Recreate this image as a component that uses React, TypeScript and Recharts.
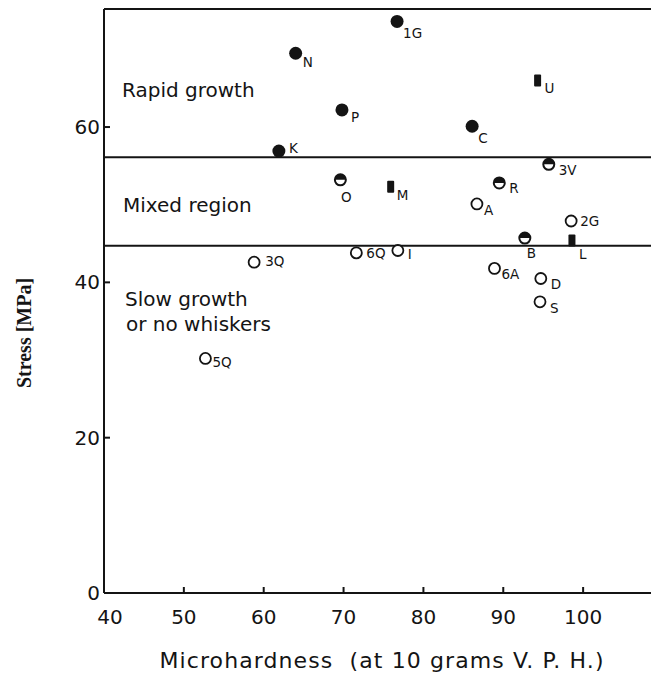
import {
  ReferenceLine,
  Scatter,
  ScatterChart,
  XAxis,
  YAxis,
} from "recharts";

const INK = "#141414";
const FONT = "'DejaVu Sans', sans-serif";

// Microhardness (V.P.H.) vs stress (MPa), one array per marker kind
const rapidGrowth = [
  { x: 64.0, y: 69.5, name: "N" },
  { x: 76.7, y: 73.6, name: "1G" },
  { x: 69.8, y: 62.2, name: "P" },
  { x: 86.1, y: 60.1, name: "C" },
  { x: 61.9, y: 56.9, name: "K" },
];

const squares = [
  { x: 94.3, y: 66.0, name: "U" },
  { x: 75.9, y: 52.3, name: "M" },
  { x: 98.6, y: 45.4, name: "L" },
];

const mixed = [
  { x: 69.6, y: 53.2, name: "O" },
  { x: 89.5, y: 52.8, name: "R" },
  { x: 95.7, y: 55.2, name: "3V" },
  { x: 92.7, y: 45.7, name: "B" },
];

const slowGrowth = [
  { x: 86.7, y: 50.1, name: "A" },
  { x: 98.5, y: 47.9, name: "2G" },
  { x: 58.8, y: 42.6, name: "3Q" },
  { x: 71.6, y: 43.8, name: "6Q" },
  { x: 76.8, y: 44.1, name: "I" },
  { x: 88.9, y: 41.8, name: "6A" },
  { x: 94.7, y: 40.5, name: "D" },
  { x: 94.6, y: 37.5, name: "S" },
  { x: 52.7, y: 30.2, name: "5Q" },
];

const regionBounds = [56.1, 44.7];
const xTicks = [40, 50, 60, 70, 80, 90, 100];
const topTicks = [50, 60, 70, 80, 90, 100];
const yTicks = [0, 20, 40, 60];

// label placement relative to the marker centre: [dx, dy, anchor]
const labelPos: Record<string, [number, number, string]> = {
  N: [7, 14, "start"],
  "1G": [6, 17, "start"],
  P: [9, 12, "start"],
  C: [6, 17, "start"],
  K: [10, 2, "start"],
  U: [7, 13, "start"],
  M: [6, 13, "start"],
  L: [7, 19, "start"],
  O: [6, 22, "middle"],
  R: [10, 10, "start"],
  "3V": [10, 11, "start"],
  B: [2, 20, "start"],
  A: [7, 11, "start"],
  "2G": [9, 5, "start"],
  "3Q": [11, 4, "start"],
  "6Q": [10, 5, "start"],
  I: [10, 8, "start"],
  "6A": [7, 11, "start"],
  D: [10, 11, "start"],
  S: [10, 11, "start"],
  "5Q": [7, 9, "start"],
};

function PointLabel({ cx, cy, name }: any) {
  const [dx, dy, anchor] = labelPos[name] || [8, 8, "start"];
  return (
    <text
      x={cx + dx}
      y={cy + dy}
      textAnchor={anchor as any}
      fontSize={13.5}
      fontFamily={FONT}
      fill={INK}
    >
      {name}
    </text>
  );
}

function FilledDot(props: any) {
  const { cx, cy, payload } = props;
  return (
    <g>
      <circle cx={cx} cy={cy} r={6.5} fill={INK} />
      <PointLabel cx={cx} cy={cy} name={payload.name} />
    </g>
  );
}

function SquareDot(props: any) {
  const { cx, cy, payload } = props;
  return (
    <g>
      <rect x={cx - 3.5} y={cy - 6} width={7} height={12} rx={1} fill={INK} />
      <PointLabel cx={cx} cy={cy} name={payload.name} />
    </g>
  );
}

function HalfDot(props: any) {
  const { cx, cy, payload } = props;
  const r = 5.5;
  return (
    <g>
      <path
        d={`M ${cx - r} ${cy} A ${r} ${r} 0 0 1 ${cx + r} ${cy} Z`}
        fill={INK}
      />
      <circle cx={cx} cy={cy} r={r} fill="none" stroke={INK} strokeWidth={2} />
      <PointLabel cx={cx} cy={cy} name={payload.name} />
    </g>
  );
}

function OpenDot(props: any) {
  const { cx, cy, payload } = props;
  return (
    <g>
      <circle cx={cx} cy={cy} r={5.5} fill="#fff" stroke={INK} strokeWidth={1.8} />
      <PointLabel cx={cx} cy={cy} name={payload.name} />
    </g>
  );
}

// tickSize is 1, so the tick anchor sits 1px outside the axis line;
// tick marks point inward like in the original figure
function BottomTick({ x, y, payload }: any) {
  return (
    <g>
      {payload.value !== 40 && (
        <line x1={x} x2={x} y1={y - 1} y2={y - 7} stroke={INK} strokeWidth={2} />
      )}
      <text
        x={x + (payload.value === 40 ? 6 : 0)}
        y={y + 30}
        textAnchor="middle"
        fontSize={20}
        fontFamily={FONT}
        fill={INK}
      >
        {payload.value}
      </text>
    </g>
  );
}

function TopTick({ x, y }: any) {
  return <line x1={x} x2={x} y1={y + 1} y2={y + 7} stroke={INK} strokeWidth={2} />;
}

function LeftTick({ x, y, payload }: any) {
  return (
    <g>
      {payload.value !== 0 && (
        <line x1={x + 1} x2={x + 7} y1={y} y2={y} stroke={INK} strokeWidth={2} />
      )}
      <text
        x={x - 3}
        y={y + 7}
        textAnchor="end"
        fontSize={20}
        fontFamily={FONT}
        fill={INK}
      >
        {payload.value}
      </text>
    </g>
  );
}

export default function App() {
  const regionText = { fontSize: 20, fontFamily: FONT, fill: INK };
  return (
    <div
      style={{
        position: "absolute",
        left: 0,
        top: 0,
        width: 651,
        height: 675,
        background: "#fff",
        overflow: "hidden",
      }}
    >
      <ScatterChart
        width={651}
        height={675}
        margin={{ top: 8, right: 0, left: 44, bottom: 0 }}
      >
        <XAxis
          type="number"
          dataKey="x"
          domain={[40, 108.5]}
          ticks={xTicks}
          allowDataOverflow
          height={82}
          tickSize={1}
          tickMargin={0}
          tickLine={false}
          tick={<BottomTick />}
          axisLine={{ stroke: INK, strokeWidth: 2 }}
        />
        <XAxis
          xAxisId="top"
          orientation="top"
          type="number"
          domain={[40, 108.5]}
          ticks={topTicks}
          allowDataOverflow
          height={1}
          tickSize={1}
          tickMargin={0}
          tickLine={false}
          tick={<TopTick />}
          axisLine={{ stroke: INK, strokeWidth: 2 }}
        />
        <YAxis
          type="number"
          dataKey="y"
          domain={[0, 75.2]}
          ticks={yTicks}
          allowDataOverflow
          width={60}
          tickSize={1}
          tickMargin={0}
          tickLine={false}
          tick={<LeftTick />}
          axisLine={{ stroke: INK, strokeWidth: 2 }}
        />
        {regionBounds.map((v) => (
          <ReferenceLine key={v} y={v} stroke={INK} strokeWidth={2} />
        ))}
        <Scatter data={rapidGrowth} shape={<FilledDot />} isAnimationActive={false} />
        <Scatter data={squares} shape={<SquareDot />} isAnimationActive={false} />
        <Scatter data={mixed} shape={<HalfDot />} isAnimationActive={false} />
        <Scatter data={slowGrowth} shape={<OpenDot />} isAnimationActive={false} />
      </ScatterChart>

      {/* region names and axis titles */}
      <svg
        width={651}
        height={675}
        style={{ position: "absolute", left: 0, top: 0, pointerEvents: "none" }}
      >
        <text x={122} y={97} {...regionText}>Rapid growth</text>
        <text x={123} y={212} {...regionText}>Mixed region</text>
        <text x={125} y={306} {...regionText}>Slow growth</text>
        <text x={126} y={331} {...regionText}>or no whiskers</text>
        <text
          x={382}
          y={668}
          textAnchor="middle"
          fontSize={22}
          letterSpacing={1.1}
          fontFamily={FONT}
          fill={INK}
          style={{ whiteSpace: "pre" }}
        >
          {"Microhardness  (at 10 grams V. P. H.)"}
        </text>
        <text
          transform="translate(31 333) rotate(-90)"
          textAnchor="middle"
          fontSize={20}
          fontWeight="bold"
          fontFamily="'Liberation Serif', 'Times New Roman', serif"
          fill={INK}
        >
          Stress [MPa]
        </text>
      </svg>
    </div>
  );
}
